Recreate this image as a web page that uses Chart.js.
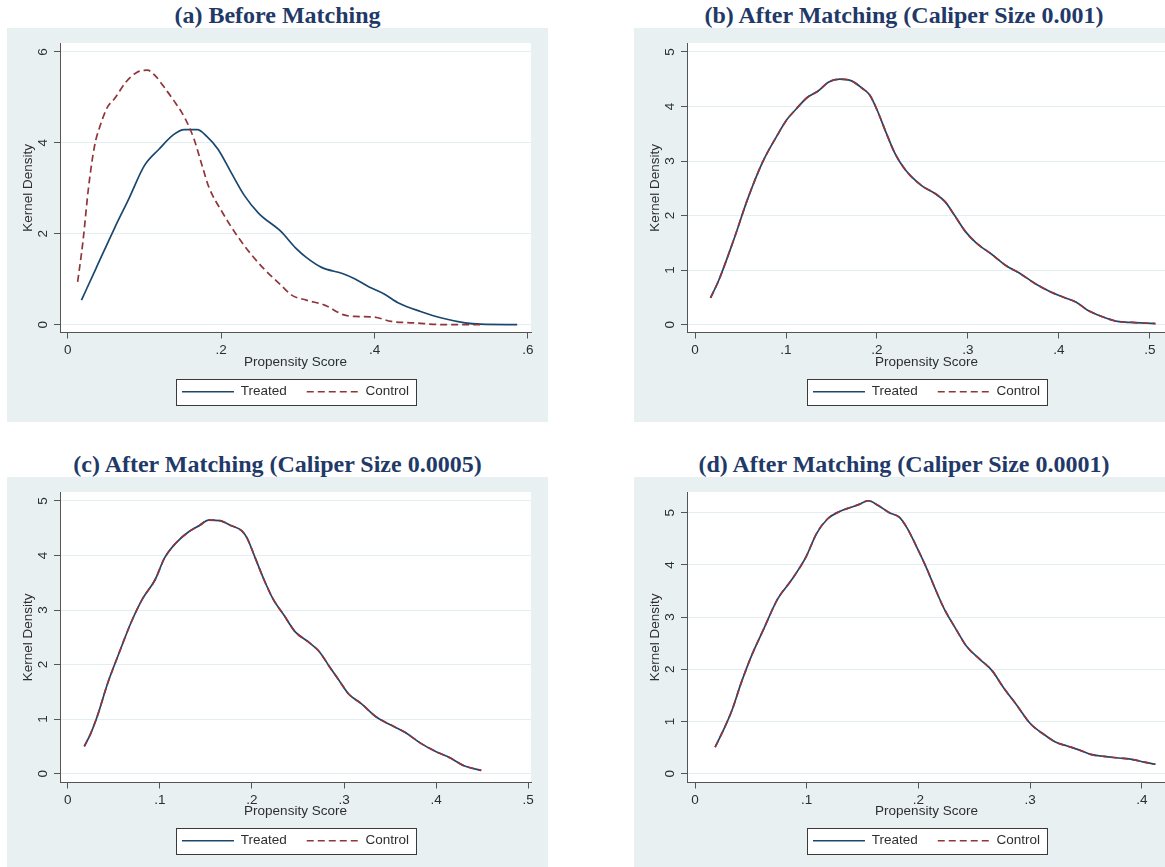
<!DOCTYPE html>
<html>
<head>
<meta charset="utf-8">
<script src="https://cdn.jsdelivr.net/npm/chart.js@4.4.1/dist/chart.umd.min.js"></script>
<style>
body { margin:0; width:1165px; height:867px; overflow:hidden; background:#fff; position:relative; }
.ttl { position:absolute; text-align:center; font-family:"Liberation Serif","Times New Roman",serif; font-weight:bold; font-size:24px; color:#1f3a68; line-height:26px; white-space:nowrap; }
canvas { position:absolute; background:#e9f0f2; }
</style>
</head>
<body>
<div class="ttl" style="left:7px;width:541px;top:2px">(a) Before Matching</div>
<div class="ttl" style="left:634px;width:540px;top:2px">(b) After Matching (Caliper Size 0.001)</div>
<div class="ttl" style="left:7px;width:541px;top:451px">(c) After Matching (Caliper Size 0.0005)</div>
<div class="ttl" style="left:634px;width:540px;top:451px">(d) After Matching (Caliper Size 0.0001)</div>

<canvas id="cA" width="541" height="394" style="left:7px;top:28px"></canvas>
<canvas id="cB" width="540" height="394" style="left:634px;top:28px"></canvas>
<canvas id="cC" width="541" height="390" style="left:7px;top:477px"></canvas>
<canvas id="cD" width="540" height="390" style="left:634px;top:477px"></canvas>

<script>
// (a) before matching
var xTreatedA = [0.018, 0.037, 0.061, 0.080, 0.100, 0.119, 0.138, 0.152, 0.169, 0.181, 0.196, 0.213, 0.230, 0.249, 0.278, 0.297, 0.311, 0.331, 0.359, 0.374, 0.393, 0.412, 0.432, 0.460, 0.489, 0.518, 0.538, 0.586];
var yTreatedA = [0.54, 1.24, 2.12, 2.78, 3.50, 3.86, 4.18, 4.29, 4.29, 4.15, 3.86, 3.35, 2.85, 2.45, 2.05, 1.69, 1.48, 1.26, 1.12, 1.01, 0.83, 0.68, 0.47, 0.29, 0.14, 0.04, 0.01, 0.00];
var xControlA = [0.013, 0.020, 0.027, 0.035, 0.042, 0.052, 0.061, 0.076, 0.090, 0.104, 0.114, 0.129, 0.138, 0.153, 0.165, 0.174, 0.184, 0.201, 0.220, 0.239, 0.258, 0.278, 0.292, 0.311, 0.335, 0.359, 0.374, 0.398, 0.422, 0.451, 0.489, 0.538];
var yControlA = [0.94, 1.84, 2.99, 3.93, 4.36, 4.79, 4.97, 5.34, 5.55, 5.60, 5.48, 5.15, 4.94, 4.54, 4.07, 3.57, 3.03, 2.49, 1.98, 1.55, 1.19, 0.87, 0.65, 0.54, 0.43, 0.22, 0.18, 0.17, 0.07, 0.04, 0.00, 0.00];

// (b) caliper 0.001
var xB = [0.017, 0.026, 0.042, 0.058, 0.074, 0.090, 0.101, 0.111, 0.123, 0.135, 0.147, 0.159, 0.172, 0.184, 0.192, 0.200, 0.210, 0.220, 0.232, 0.249, 0.265, 0.275, 0.285, 0.297, 0.309, 0.326, 0.342, 0.358, 0.374, 0.391, 0.407, 0.419, 0.431, 0.447, 0.464, 0.480, 0.492, 0.506];
var treatedB = [0.49, 0.81, 1.53, 2.31, 2.97, 3.46, 3.76, 3.95, 4.16, 4.28, 4.45, 4.50, 4.47, 4.33, 4.21, 3.94, 3.52, 3.13, 2.82, 2.55, 2.39, 2.25, 2.01, 1.71, 1.50, 1.29, 1.08, 0.93, 0.75, 0.60, 0.49, 0.41, 0.27, 0.15, 0.06, 0.04, 0.03, 0.02];
var controlB = treatedB; // matched curves coincide

// (c) caliper 0.0005
var xC = [0.018, 0.025, 0.033, 0.043, 0.055, 0.069, 0.081, 0.095, 0.105, 0.117, 0.131, 0.143, 0.153, 0.165, 0.177, 0.189, 0.195, 0.203, 0.213, 0.223, 0.235, 0.247, 0.261, 0.273, 0.285, 0.295, 0.305, 0.319, 0.335, 0.351, 0.367, 0.383, 0.399, 0.415, 0.431, 0.449];
var treatedC = [0.50, 0.74, 1.10, 1.64, 2.18, 2.78, 3.20, 3.56, 3.95, 4.22, 4.43, 4.55, 4.65, 4.64, 4.55, 4.45, 4.31, 3.98, 3.56, 3.20, 2.90, 2.60, 2.42, 2.24, 1.94, 1.70, 1.46, 1.28, 1.04, 0.89, 0.75, 0.56, 0.41, 0.29, 0.14, 0.06];
var controlC = treatedC; // matched curves coincide

// (d) caliper 0.0001
var xD = [0.018, 0.024, 0.033, 0.041, 0.051, 0.061, 0.074, 0.086, 0.099, 0.109, 0.119, 0.129, 0.139, 0.147, 0.155, 0.164, 0.174, 0.183, 0.190, 0.198, 0.207, 0.215, 0.223, 0.233, 0.243, 0.255, 0.266, 0.276, 0.288, 0.300, 0.313, 0.323, 0.333, 0.343, 0.354, 0.366, 0.379, 0.392, 0.402, 0.412];
var treatedD = [0.51, 0.77, 1.21, 1.72, 2.28, 2.75, 3.35, 3.70, 4.14, 4.61, 4.89, 5.02, 5.10, 5.16, 5.23, 5.14, 5.00, 4.91, 4.70, 4.36, 3.95, 3.54, 3.16, 2.79, 2.44, 2.19, 1.97, 1.65, 1.31, 0.96, 0.74, 0.60, 0.53, 0.46, 0.37, 0.33, 0.30, 0.27, 0.22, 0.18];
var controlD = treatedD; // matched curves coincide

var yTicks6 = [0, 2, 4, 6], yLabels6 = ['0', '2', '4', '6'];
var yTicks5 = [0, 1, 2, 3, 4, 5], yLabels5 = ['0', '1', '2', '3', '4', '5'];
var xTicksA = [0, 0.2, 0.4, 0.6], xLabelsA = ['0', '.2', '.4', '.6'];
var xTicks5 = [0, 0.1, 0.2, 0.3, 0.4, 0.5], xLabels5 = ['0', '.1', '.2', '.3', '.4', '.5'];
var xTicks4 = [0, 0.1, 0.2, 0.3, 0.4], xLabels4 = ['0', '.1', '.2', '.3', '.4'];

Chart.defaults.font.family = '"Liberation Sans", Arial, sans-serif';
Chart.defaults.font.size = 13.5;
Chart.defaults.color = '#2e2e2e';

var navy = '#1a476f', maroon = '#90353b';
var gridCol = '#e4edf0', axisCol = '#555555';
var lineW = 1.7;

function pts(xs, ys) {
	return xs.map(function(x, i) { return {x: x, y: ys[i]}; });
}

function legendRect(chart) {
	var hits = chart.legend && chart.legend.legendHitBoxes;
	if (!hits || !hits.length) return null;
	var l = Infinity, r = -Infinity;
	hits.forEach(function(h) { l = Math.min(l, h.left); r = Math.max(r, h.left + h.width); });
	var cy = hits[0].top + hits[0].height / 2;
	return {x: Math.round(l - 6) + 0.5, y: Math.round(cy - 13) + 0.5, w: Math.round(r - l + 13), h: 26};
}

// white plot region + boxed legend, like Stata
var stataBox = {
	id: 'stataBox',
	beforeDraw: function(chart) {
		var ctx = chart.ctx, a = chart.chartArea;
		ctx.save();
		ctx.fillStyle = '#fff';
		ctx.fillRect(a.left, a.top, a.right - a.left, a.bottom - a.top);
		var r = legendRect(chart);
		if (r) ctx.fillRect(r.x, r.y, r.w, r.h);
		ctx.restore();
	},
	afterDraw: function(chart) {
		var r = legendRect(chart);
		if (!r) return;
		var ctx = chart.ctx;
		ctx.save();
		ctx.strokeStyle = '#3a3a3a';
		ctx.lineWidth = 1;
		ctx.strokeRect(r.x, r.y, r.w, r.h);
		ctx.restore();
	}
};

function legendLabels(chart) {
	var items = Chart.defaults.plugins.legend.labels.generateLabels(chart);
	items.forEach(function(it) {
		var ds = chart.data.datasets[it.datasetIndex];
		it.lineDash = ds.borderDash || [];
		it.lineWidth = lineW;
		it.strokeStyle = ds.borderColor;
	});
	return items;
}

function panel(id, p) {
	return new Chart(document.getElementById(id), {
		type: 'line',
		data: {
			datasets: [
				{label: 'Treated', data: p.treated, borderColor: navy, borderWidth: lineW, pointRadius: 0, cubicInterpolationMode: 'monotone', order: 1},
				{label: 'Control', data: p.control, borderColor: maroon, borderWidth: lineW, borderDash: [7, 4], pointRadius: 0, cubicInterpolationMode: 'monotone', order: 0}
			]
		},
		options: {
			responsive: false,
			animation: false,
			devicePixelRatio: 1,
			layout: {padding: {top: 11, right: p.padRight, bottom: p.padBottom, left: 0}},
			plugins: {
				legend: {
					position: 'bottom',
					fullSize: false,
					labels: {
						usePointStyle: true, pointStyle: 'line', pointStyleWidth: 52, padding: 20, color: '#2e2e2e',
						generateLabels: legendLabels,
						sort: function(a, b) { return a.datasetIndex - b.datasetIndex; }
					}
				},
				tooltip: {enabled: false}
			},
			scales: {
				x: {
					type: 'linear', min: p.xMin, max: p.xMax,
					afterBuildTicks: function(s) { s.ticks = p.xTicks.map(function(v) { return {value: v}; }); },
					afterFit: function(s) { s.height = p.xh; },
					ticks: {autoSkip: false, maxRotation: 0, padding: 4, callback: function(v, i) { return p.xLabels[i]; }},
					grid: {drawOnChartArea: false, tickLength: 6, tickColor: axisCol},
					border: {color: axisCol, width: 1},
					title: {display: true, text: 'Propensity Score', padding: {top: 0, bottom: -5.3}}
				},
				y: {
					min: p.yMin, max: p.yMax,
					afterBuildTicks: function(s) { s.ticks = p.yTicks.map(function(v) { return {value: v}; }); },
					afterFit: function(s) { s.width = 53; },
					ticks: {minRotation: 90, maxRotation: 90, crossAlign: 'center', padding: 7, callback: function(v, i) { return p.yLabels[i]; }},
					grid: {color: gridCol, lineWidth: 1, tickLength: 6, tickColor: axisCol},
					border: {color: axisCol, width: 1},
					title: {display: true, text: 'Kernel Density', padding: {top: 13, bottom: 0}}
				}
			}
		},
		plugins: [stataBox]
	});
}

panel('cA', {
	treated: pts(xTreatedA, yTreatedA), control: pts(xControlA, yControlA),
	xMin: -0.010, xMax: 0.604, yMin: -0.173, yMax: 6.195,
	xTicks: xTicksA, xLabels: xLabelsA, yTicks: yTicks6, yLabels: yLabels6,
	padRight: 17, padBottom: 13.5, xh: 32.5
});
panel('cB', {
	treated: pts(xB, treatedB), control: pts(xB, controlB),
	xMin: -0.0088, xMax: 0.5176, yMin: -0.144, yMax: 5.162,
	xTicks: xTicks5, xLabels: xLabels5, yTicks: yTicks5, yLabels: yLabels5,
	padRight: 8, padBottom: 13.5, xh: 32.5
});
panel('cC', {
	treated: pts(xC, treatedC), control: pts(xC, controlC),
	xMin: -0.0084, xMax: 0.503, yMin: -0.162, yMax: 5.162,
	xTicks: xTicks5, xLabels: xLabels5, yTicks: yTicks5, yLabels: yLabels5,
	padRight: 17, padBottom: 9.5, xh: 31.5
});
panel('cD', {
	treated: pts(xD, treatedD), control: pts(xD, controlD),
	xMin: -0.00716, xMax: 0.4215, yMin: -0.17, yMax: 5.396,
	xTicks: xTicks4, xLabels: xLabels4, yTicks: yTicks5, yLabels: yLabels5,
	padRight: 8, padBottom: 9.5, xh: 31.5
});
</script>
</body>
</html>
